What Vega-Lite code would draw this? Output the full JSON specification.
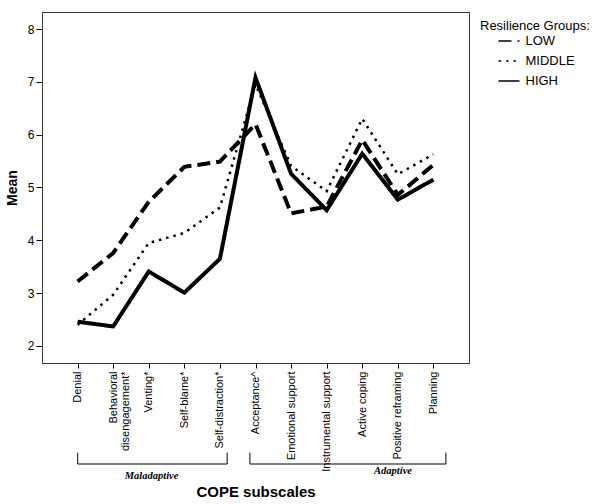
{
  "$schema": "https://vega.github.io/schema/vega-lite/v6.json",
  "width": 427,
  "height": 351,
  "autosize": {"type": "none"},
  "padding": {"left": 42, "top": 12, "right": 131, "bottom": 141},
  "config": {
    "font": "Liberation Sans",
    "view": {"stroke": "#333333", "strokeWidth": 1},
    "axis": {"grid": false, "domain": false, "tickColor": "black", "labelColor": "black", "titleColor": "black"}
  },
  "datasets": {
    "means": [
      {"subscale": "Denial", "group": "MIDDLE", "mean": 2.40},
      {"subscale": "Behavioral disengagement*", "group": "MIDDLE", "mean": 2.97},
      {"subscale": "Venting*", "group": "MIDDLE", "mean": 3.95},
      {"subscale": "Self-blame*", "group": "MIDDLE", "mean": 4.14},
      {"subscale": "Self-distraction*", "group": "MIDDLE", "mean": 4.62},
      {"subscale": "Acceptance^", "group": "MIDDLE", "mean": 6.95},
      {"subscale": "Emotional support", "group": "MIDDLE", "mean": 5.41},
      {"subscale": "Instrumental support", "group": "MIDDLE", "mean": 4.93},
      {"subscale": "Active coping", "group": "MIDDLE", "mean": 6.30},
      {"subscale": "Positive reframing", "group": "MIDDLE", "mean": 5.25},
      {"subscale": "Planning", "group": "MIDDLE", "mean": 5.63},
      {"subscale": "Denial", "group": "HIGH", "mean": 2.46},
      {"subscale": "Behavioral disengagement*", "group": "HIGH", "mean": 2.37},
      {"subscale": "Venting*", "group": "HIGH", "mean": 3.41},
      {"subscale": "Self-blame*", "group": "HIGH", "mean": 3.01},
      {"subscale": "Self-distraction*", "group": "HIGH", "mean": 3.65},
      {"subscale": "Acceptance^", "group": "HIGH", "mean": 7.08},
      {"subscale": "Emotional support", "group": "HIGH", "mean": 5.26},
      {"subscale": "Instrumental support", "group": "HIGH", "mean": 4.57},
      {"subscale": "Active coping", "group": "HIGH", "mean": 5.64},
      {"subscale": "Positive reframing", "group": "HIGH", "mean": 4.77},
      {"subscale": "Planning", "group": "HIGH", "mean": 5.15},
      {"subscale": "Denial", "group": "LOW", "mean": 3.22},
      {"subscale": "Behavioral disengagement*", "group": "LOW", "mean": 3.76},
      {"subscale": "Venting*", "group": "LOW", "mean": 4.73},
      {"subscale": "Self-blame*", "group": "LOW", "mean": 5.39},
      {"subscale": "Self-distraction*", "group": "LOW", "mean": 5.49},
      {"subscale": "Acceptance^", "group": "LOW", "mean": 6.20},
      {"subscale": "Emotional support", "group": "LOW", "mean": 4.51},
      {"subscale": "Instrumental support", "group": "LOW", "mean": 4.64},
      {"subscale": "Active coping", "group": "LOW", "mean": 5.90},
      {"subscale": "Positive reframing", "group": "LOW", "mean": 4.86},
      {"subscale": "Planning", "group": "LOW", "mean": 5.43}
    ],
    "brackets": [
      {"x1": -0.08, "x2": 4.19, "y1": -0.234, "y2": -0.234},
      {"x1": -0.08, "x2": -0.08, "y1": -0.234, "y2": -0.02},
      {"x1": 4.19, "x2": 4.19, "y1": -0.234, "y2": -0.02},
      {"x1": 4.84, "x2": 10.44, "y1": -0.234, "y2": -0.234},
      {"x1": 4.84, "x2": 4.84, "y1": -0.234, "y2": -0.02},
      {"x1": 10.44, "x2": 10.44, "y1": -0.234, "y2": -0.02}
    ],
    "groups": [
      {"label": "Maladaptive", "x": 2.03, "y": -0.461},
      {"label": "Adaptive", "x": 8.93, "y": -0.366}
    ]
  },
  "layer": [
    {
      "data": {"name": "means"},
      "mark": {"type": "line", "color": "black", "strokeJoin": "miter"},
      "encoding": {
        "x": {
          "field": "subscale", "type": "nominal", "sort": null,
          "scale": {"type": "point", "padding": 1.1},
          "axis": {
            "labelAngle": -90, "labelAlign": "right", "labelBaseline": "middle",
            "labelFontSize": 11, "labelLineHeight": 12, "tickSize": 5, "labelPadding": 3,
            "labelExpr": "datum.value == 'Behavioral disengagement*' ? ['Behavioral', 'disengagement*'] : datum.value",
            "title": "COPE subscales", "titleFontSize": 15, "titleFontWeight": "bold",
            "titleY": 133, "titleBaseline": "alphabetic"
          }
        },
        "y": {
          "field": "mean", "type": "quantitative",
          "scale": {"domain": [1.678, 8.322], "nice": false, "zero": false},
          "axis": {
            "values": [2, 3, 4, 5, 6, 7, 8], "labelFontSize": 12, "tickSize": 6, "labelPadding": 2,
            "title": "Mean", "titleFontSize": 14, "titleFontWeight": "bold",
            "titleX": -30, "titleBaseline": "middle"
          }
        },
        "strokeDash": {
          "field": "group", "type": "nominal",
          "scale": {"domain": ["LOW", "MIDDLE", "HIGH"], "range": [[13, 6], [2.5, 5], [1, 0]]},
          "legend": {
            "orient": "none", "legendX": 438, "legendY": 8,
            "title": "Resilience Groups:", "titleFontSize": 13, "titleFontWeight": "normal", "titleColor": "black",
            "labelFontSize": 13, "labelColor": "black", "symbolType": "M-1.05,0H1.05", "symbolSize": 400,
            "symbolStrokeWidth": 1.5, "symbolStrokeColor": "black", "symbolOffset": 18, "labelOffset": 5.5,
            "rowPadding": 2, "titlePadding": -3
          }
        },
        "strokeWidth": {
          "condition": {"test": "datum.group === 'MIDDLE'", "value": 2.5},
          "value": 4
        }
      }
    },
    {
      "data": {"name": "brackets"},
      "mark": {"type": "rule", "color": "black", "strokeWidth": 1},
      "encoding": {
        "x": {"field": "x1", "type": "quantitative", "scale": {"domain": [-1.1, 11.1], "nice": false, "zero": false}, "axis": null},
        "x2": {"field": "x2"},
        "y": {"field": "y1", "type": "quantitative", "axis": null},
        "y2": {"field": "y2"}
      }
    },
    {
      "data": {"name": "groups"},
      "mark": {"type": "text", "font": "Liberation Serif", "fontStyle": "italic", "fontWeight": "bold", "fontSize": 10.5, "color": "black", "baseline": "middle"},
      "encoding": {
        "x": {"field": "x", "type": "quantitative", "scale": {"domain": [-1.1, 11.1], "nice": false, "zero": false}, "axis": null},
        "y": {"field": "y", "type": "quantitative", "axis": null},
        "text": {"field": "label"}
      }
    }
  ],
  "resolve": {"scale": {"x": "independent"}, "axis": {"y": "independent"}}
}
